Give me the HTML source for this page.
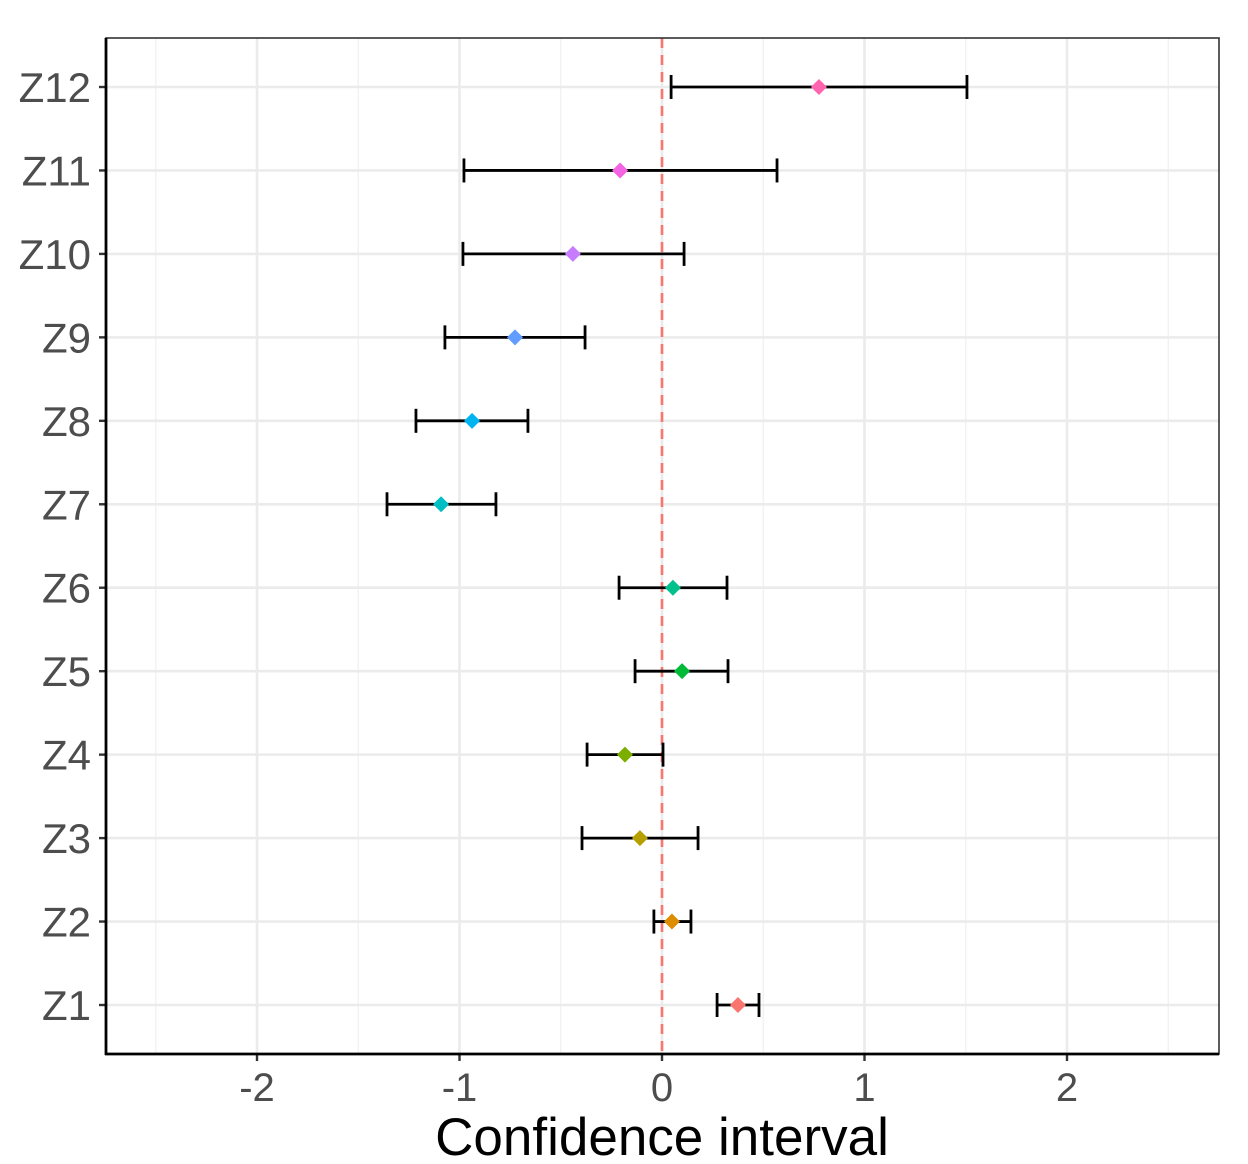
<!DOCTYPE html>
<html><head><meta charset="utf-8"><style>
body{margin:0;background:#fff;}
svg{display:block;font-family:"Liberation Sans",sans-serif;}
</style></head><body>
<svg id="chart" width="1248" height="1164" viewBox="0 0 1248 1164" xmlns="http://www.w3.org/2000/svg">
<rect width="1248" height="1164" fill="#fff"/>
<g id="grid"></g><g id="marks"></g><g id="axes"></g>
</svg>
<script>
const categories=["Z1","Z2","Z3","Z4","Z5","Z6","Z7","Z8","Z9","Z10","Z11","Z12"];
const estimates=[0.375,0.049,-0.109,-0.183,0.099,0.054,-1.091,-0.938,-0.726,-0.44,-0.207,0.775];
const lowers=[0.272,-0.04,-0.395,-0.37,-0.133,-0.212,-1.358,-1.215,-1.072,-0.983,-0.978,0.045];
const uppers=[0.479,0.143,0.178,0.005,0.326,0.321,-0.82,-0.662,-0.38,0.109,0.568,1.506];
const colors=["#F8766D","#DE8C00","#B79F00","#7CAE00","#00BA38","#00C08B","#00BFC4","#00B4F0","#619CFF","#C77CFF","#F564E3","#FF64B0"];
const xTicks=[-2,-1,0,1,2];
const xTickLabels=["-2","-1","0","1","2"];
const xMinor=[-2.5,-1.5,-0.5,0.5,1.5,2.5];

const NS="http://www.w3.org/2000/svg";
const L=106,R=1219,T=38,B=1054;
const x=v=>662+v*202.5;
const y=i=>1005-i*(918/11);
function mk(tag,attrs,parent,text){const e=document.createElementNS(NS,tag);for(const k in attrs)e.setAttribute(k,attrs[k]);if(text!==undefined)e.textContent=text;parent.appendChild(e);return e;}
const grid=document.getElementById('grid'),marks=document.getElementById('marks'),axes=document.getElementById('axes');
xMinor.forEach(v=>{const e=mk('line',{x1:x(v),x2:x(v),y1:T,y2:B,stroke:'#f0f0f0','stroke-width':1.3},grid);

});
xTicks.forEach(v=>{const e=mk('line',{x1:x(v),x2:x(v),y1:T,y2:B,stroke:'#ebebeb','stroke-width':2.6},grid);

});
categories.forEach((c,i)=>{const e=mk('line',{x1:L,x2:R,y1:y(i),y2:y(i),stroke:'#ebebeb','stroke-width':2.6},grid);

});
const z=mk('line',{x1:x(0),x2:x(0),y1:T,y2:B,stroke:'#F8766D','stroke-width':2.6,'stroke-dasharray':'10,7'},marks);


categories.forEach((c,i)=>{
 const g=mk('g',{},marks);
 
 
 const yy=y(i);
 mk('line',{x1:x(lowers[i]),x2:x(uppers[i]),y1:yy,y2:yy,stroke:'#000','stroke-width':2.8},g);
 mk('line',{x1:x(lowers[i]),x2:x(lowers[i]),y1:yy-12,y2:yy+12,stroke:'#000','stroke-width':2.8},g);
 mk('line',{x1:x(uppers[i]),x2:x(uppers[i]),y1:yy-12,y2:yy+12,stroke:'#000','stroke-width':2.8},g);
 const px=x(estimates[i]);
 const p=mk('polygon',{points:`${px},${yy-8} ${px+8},${yy} ${px},${yy+8} ${px-8},${yy}`,fill:colors[i]},marks);
 
 
 const t=mk('text',{x:91,y:yy+15,'text-anchor':'end','font-size':42,fill:'#4d4d4d'},axes,c);
 
 
 mk('line',{x1:99,x2:L,y1:yy,y2:yy,stroke:'#333','stroke-width':2.4},axes);
});
xTicks.forEach((v,i)=>{
 mk('line',{x1:x(v),x2:x(v),y1:B,y2:B+7,stroke:'#333','stroke-width':2.4},axes);
 const t=mk('text',{x:x(v),y:1101,'text-anchor':'middle','font-size':40,fill:'#4d4d4d'},axes,xTickLabels[i]);
 
 
});
const fr=mk('rect',{x:L,y:T,width:R-L,height:B-T,fill:'none',stroke:'#333','stroke-width':1.6},axes);


mk('line',{x1:L,x2:L,y1:T,y2:B+1,stroke:'#000','stroke-width':2.8},axes);
mk('line',{x1:L-1,x2:R,y1:B,y2:B,stroke:'#000','stroke-width':2.8},axes);
const xt=mk('text',{x:662,y:1155,'text-anchor':'middle','font-size':53,fill:'#000'},axes,'Confidence interval');


</script>
</body></html>
